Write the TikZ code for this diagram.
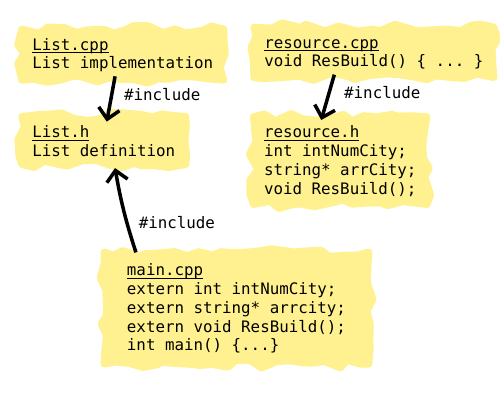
\documentclass[tikz,border=0pt]{standalone}
\usepackage{fontspec}
\setmonofont{DejaVu Sans Mono}
\usepackage{tikz}
\usetikzlibrary{arrows.meta}
\usetikzlibrary{decorations.pathmorphing}
\definecolor{blobyellow}{RGB}{255,241,143}
\newcommand{\fname}[1]{\underline{\smash{#1}}}

\begin{document}
\begin{tikzpicture}[
    font=\ttfamily\fontsize{9}{10.7}\selectfont,
    blob/.style={anchor=north west, align=left, fill=blobyellow, draw=blobyellow, line width=4pt, line join=round,
      inner xsep=6pt, inner ysep=4.5pt,
      decorate, decoration={random steps, segment length=7pt, amplitude=2.4pt}},
    incl/.style={line width=2pt, -{Straight Barb[length=6pt, width=12pt]}}
  ]
      \pgfmathsetseed{7}
      \useasboundingbox (0, 0) rectangle (10, -8);
      \node[blob] (listcpp) at (0.366, -0.512) {\strut\fname{List.cpp}\\List implementation};
      \node[blob] (listh) at (0.366, -2.26) {\strut\fname{List.h}\\List definition};
      \node[blob] (rescpp) at (5.006, -0.472) {\strut\fname{resource.cpp}\\void ResBuild() \{ ... \}};
      \node[blob] (resh) at (5.0, -2.266) {\strut\fname{resource.h}\\int intNumCity;\\string* arrCity;\\void ResBuild();};
      \node[blob, inner xsep=13pt, inner ysep=6pt] (main) at (2.012, -4.97) {\strut\fname{main.cpp}\\extern int intNumCity;\\extern string* arrcity;\\extern void ResBuild();\\int main() \{...\}};
      \draw[incl] ([xshift=-4.4pt, yshift=4.2pt]listcpp.south) -- ([xshift=1.7pt, yshift=-4.9pt]listh.north) node[midway, right, xshift=3.2pt, yshift=2.5pt] {\#include};
      \draw[incl] ([xshift=-22.5pt, yshift=3.6pt]rescpp.south) -- ([xshift=-10.8pt, yshift=-3.8pt]resh.north) node[midway, right, xshift=5pt, yshift=2.5pt] {\#include};
      \draw[incl] ([xshift=20.1pt, yshift=-2.2pt]main.north west) to[bend left=4] node[pos=0.35, right, xshift=2.5pt] {\#include} ([xshift=6.4pt]listh.south);
    \end{tikzpicture}
\end{document}
